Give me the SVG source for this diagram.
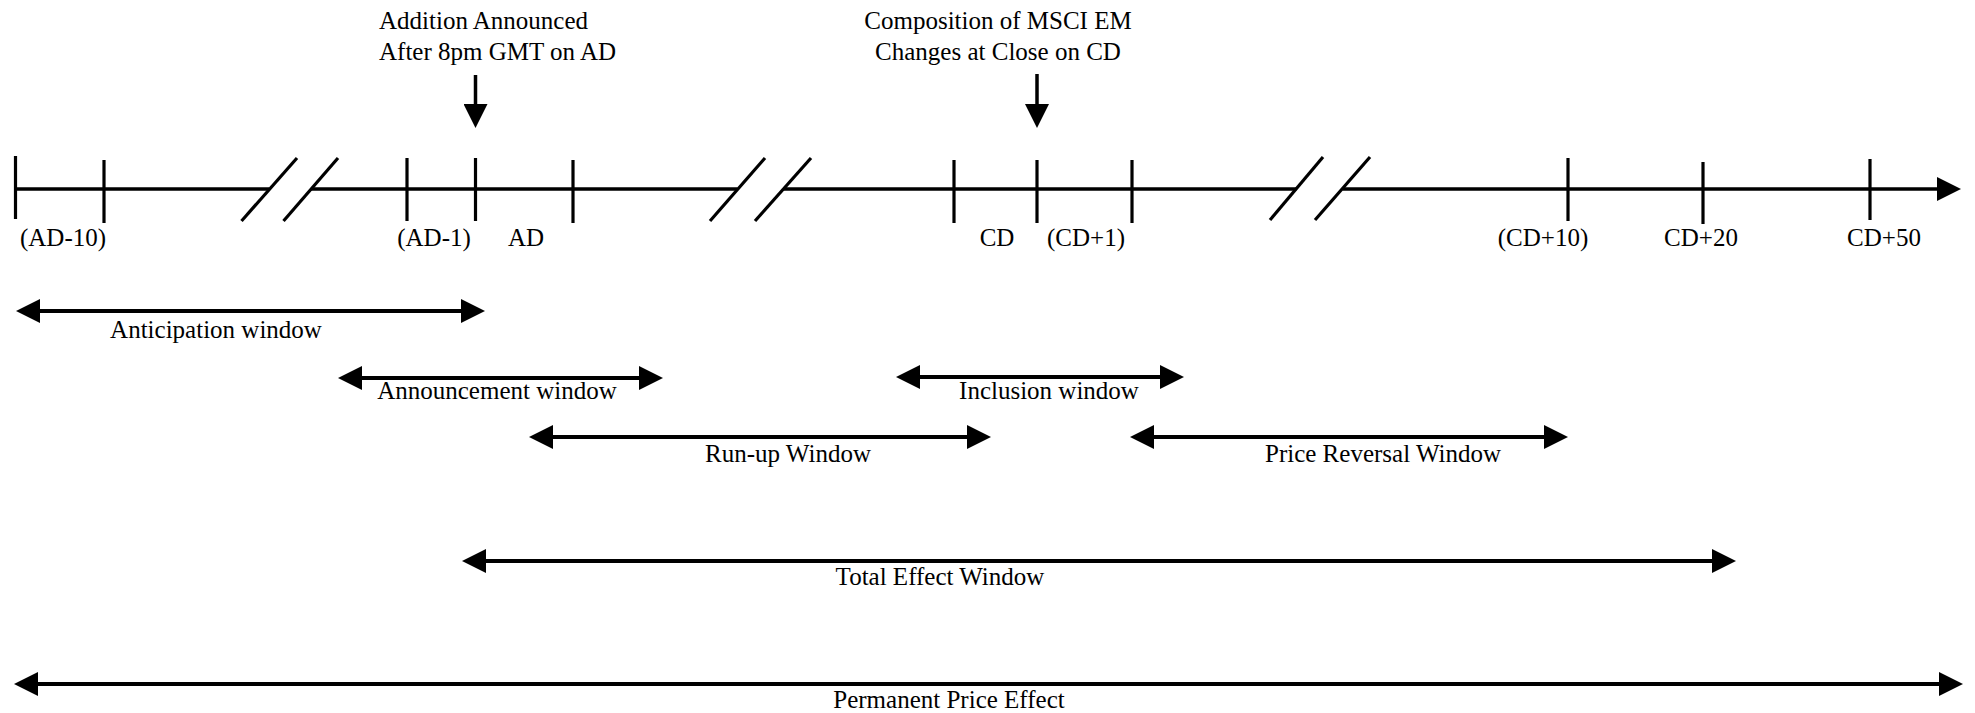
<svg xmlns="http://www.w3.org/2000/svg" width="1975" height="713" viewBox="0 0 1975 713">
<style>
  text { font-family: "Liberation Serif", "Times New Roman", serif; font-size: 25px; fill: #000; }
  .c { text-anchor: middle; }
  .ln { stroke: #000; stroke-width: 3.5; fill: none; }
  .tk { stroke: #000; stroke-width: 3.2; fill: none; }
  .arr { stroke: #000; stroke-width: 3.8; fill: none; marker-start: url(#ah); marker-end: url(#ah); }
  .one { stroke: #000; stroke-width: 3.5; fill: none; marker-end: url(#ah); }
</style>
<defs>
  <marker id="ah" viewBox="0 0 24 24" refX="14" refY="12" markerWidth="24" markerHeight="24" markerUnits="userSpaceOnUse" orient="auto-start-reverse">
    <path d="M0,0 L24,12 L0,24 z" fill="#000"/>
  </marker>
</defs>
<rect width="1975" height="713" fill="#fff"/>

<g id="timeline">
  <line class="ln" x1="15" y1="189" x2="269" y2="189"/>
  <line class="ln" x1="311" y1="189" x2="737.5" y2="189"/>
  <line class="ln" x1="783" y1="189" x2="1296.5" y2="189"/>
  <line class="one" x1="1342.5" y1="189" x2="1951" y2="189"/>
  <g id="breaks">
    <line class="tk" x1="241.5" y1="221" x2="297" y2="158"/>
    <line class="tk" x1="283.5" y1="221" x2="338" y2="158"/>
    <line class="tk" x1="710" y1="221" x2="765" y2="158"/>
    <line class="tk" x1="755" y1="221" x2="811" y2="158"/>
    <line class="tk" x1="1270" y1="220" x2="1323" y2="157"/>
    <line class="tk" x1="1315" y1="220" x2="1370" y2="157"/>
  </g>
  <g id="ticks">
    <line class="tk" x1="15.5" y1="156" x2="15.5" y2="219"/>
    <line class="tk" x1="104" y1="160" x2="104" y2="223"/>
    <line class="tk" x1="407" y1="158" x2="407" y2="221"/>
    <line class="tk" x1="475.5" y1="158" x2="475.5" y2="221"/>
    <line class="tk" x1="573" y1="160" x2="573" y2="223"/>
    <line class="tk" x1="954" y1="160" x2="954" y2="223"/>
    <line class="tk" x1="1037" y1="160" x2="1037" y2="223"/>
    <line class="tk" x1="1132" y1="160" x2="1132" y2="223"/>
    <line class="tk" x1="1568" y1="158" x2="1568" y2="221"/>
    <line class="tk" x1="1703" y1="162" x2="1703" y2="224"/>
    <line class="tk" x1="1870" y1="159" x2="1870" y2="220"/>
  </g>
</g>

<g id="tick-labels">
  <text class="c" x="63" y="246">(AD-10)</text>
  <text class="c" x="434" y="246">(AD-1)</text>
  <text class="c" x="526" y="246">AD</text>
  <text class="c" x="997" y="246">CD</text>
  <text class="c" x="1086" y="246">(CD+1)</text>
  <text class="c" x="1543" y="246">(CD+10)</text>
  <text class="c" x="1701" y="246">CD+20</text>
  <text class="c" x="1884" y="246">CD+50</text>
</g>

<g id="event-announce">
  <text x="379" y="29">Addition Announced</text>
  <text x="379" y="60">After 8pm GMT on AD</text>
</g>
<g id="event-change">
  <text class="c" x="998" y="29">Composition of MSCI EM</text>
  <text class="c" x="998" y="60">Changes at Close on CD</text>
</g>

<g id="connectors">
  <line class="one" x1="475.5" y1="75" x2="475.5" y2="118"/>
  <line class="one" x1="1037" y1="74" x2="1037" y2="118"/>
  <line class="arr" x1="26" y1="311" x2="475" y2="311"/>
  <line class="arr" x1="348" y1="378" x2="653" y2="378"/>
  <line class="arr" x1="906" y1="377" x2="1174" y2="377"/>
  <line class="arr" x1="539" y1="437" x2="981" y2="437"/>
  <line class="arr" x1="1140" y1="437" x2="1558" y2="437"/>
  <line class="arr" x1="472" y1="561" x2="1726" y2="561"/>
  <line class="arr" x1="24" y1="684" x2="1953" y2="684"/>
</g>

<g id="window-labels">
  <text class="c" x="216" y="338">Anticipation window</text>
  <text class="c" x="497" y="399">Announcement window</text>
  <text class="c" x="1049" y="399">Inclusion window</text>
  <text class="c" x="788" y="462">Run-up Window</text>
  <text class="c" x="1383" y="462">Price Reversal Window</text>
  <text class="c" x="940" y="585">Total Effect Window</text>
  <text class="c" x="949" y="708">Permanent Price Effect</text>
</g>
</svg>
